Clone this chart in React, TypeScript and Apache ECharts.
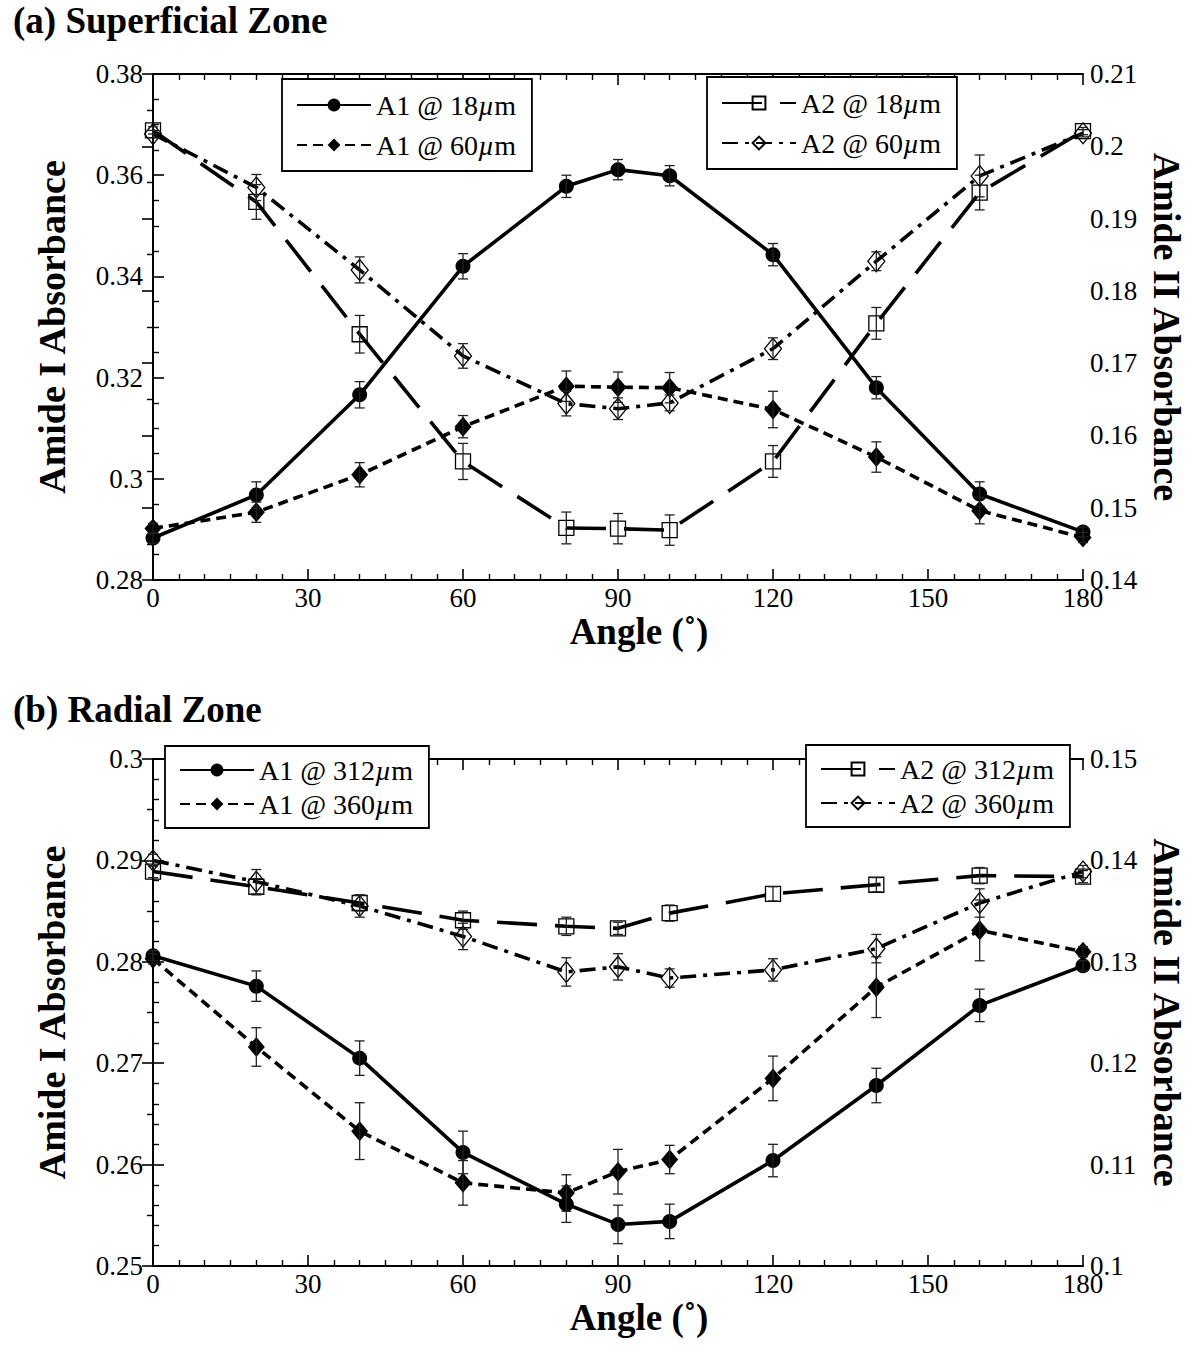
import React, { useEffect, useRef } from "react";
import * as echarts from "echarts";

const FONT = "'Liberation Serif', 'Times New Roman', serif";

const angles = [0, 20, 40, 60, 80, 90, 100, 120, 140, 160, 180];
const xTicks = [0, 30, 60, 90, 120, 150, 180];

// (a) Superficial zone
const a1_18 = [0.2883, 0.2968, 0.3166, 0.342, 0.3578, 0.3611, 0.3599, 0.3443, 0.318, 0.297, 0.2895];
const a1_18_err = [0.001, 0.0026, 0.0026, 0.0025, 0.0022, 0.002, 0.002, 0.0022, 0.0022, 0.0024, 0.001];
const a1_60 = [0.2902, 0.2934, 0.3008, 0.3103, 0.3183, 0.3181, 0.318, 0.3137, 0.3043, 0.2937, 0.2884];
const a1_60_err = [0.001, 0.002, 0.0024, 0.0022, 0.003, 0.003, 0.003, 0.0036, 0.003, 0.0026, 0.001];
const a2_18 = [0.2022, 0.1923, 0.174, 0.1564, 0.1472, 0.1471, 0.1469, 0.1564, 0.1755, 0.1936, 0.2021];
const a2_18_err = [0.0005, 0.0024, 0.0026, 0.0025, 0.0022, 0.0021, 0.0021, 0.0022, 0.0022, 0.0024, 0.0005];
const a2_60 = [0.2017, 0.1943, 0.1829, 0.171, 0.1644, 0.1637, 0.1645, 0.172, 0.1841, 0.1959, 0.2018];
const a2_60_err = [0.0005, 0.0018, 0.0018, 0.0017, 0.0017, 0.0015, 0.0011, 0.0015, 0.0013, 0.0029, 0.0005];

// (b) Radial zone
const b1_312 = [0.2806, 0.2776, 0.2705, 0.2612, 0.2561, 0.2541, 0.2544, 0.2604, 0.2678, 0.2757, 0.2796];
const b1_312_err = [0.0005, 0.0015, 0.0017, 0.0021, 0.0018, 0.0019, 0.0017, 0.0016, 0.0017, 0.0016, 0.0005];
const b1_360 = [0.2803, 0.2716, 0.2633, 0.2582, 0.2572, 0.2593, 0.2605, 0.2685, 0.2775, 0.2831, 0.281];
const b1_360_err = [0.0005, 0.0019, 0.0028, 0.0022, 0.0018, 0.0022, 0.0014, 0.0022, 0.003, 0.003, 0.0005];
const b2_312 = [0.1389, 0.1374, 0.1358, 0.1341, 0.1335, 0.1333, 0.1348, 0.1367, 0.1376, 0.1385, 0.1384];
const b2_312_err = [0.0006, 0.0008, 0.0008, 0.0009, 0.0009, 0.0006, 0.0008, 0.0007, 0.0007, 0.0008, 0.0006];
const b2_360 = [0.14, 0.1379, 0.1355, 0.1325, 0.129, 0.1295, 0.1284, 0.1292, 0.1313, 0.1358, 0.1389];
const b2_360_err = [0.0006, 0.0012, 0.0011, 0.0013, 0.0014, 0.0013, 0.0009, 0.0011, 0.0014, 0.0014, 0.0006];

const names = {
  a1_18: "A1 @ 18µm",
  a1_60: "A1 @ 60µm",
  a2_18: "A2 @ 18µm",
  a2_60: "A2 @ 60µm",
  b1_312: "A1 @ 312µm",
  b1_360: "A1 @ 360µm",
  b2_312: "A2 @ 312µm",
  b2_360: "A2 @ 360µm",
};

const fmt = (v: number) => String(Number(v.toFixed(3)));

type Style = "circle" | "fdiamond" | "square" | "odiamond";

function lineSeries(
  name: string,
  ys: number[],
  xAxisIndex: number,
  yAxisIndex: number,
  dash: any,
  mk: Style
) {
  let symbol = "circle";
  let symbolSize: any = 15;
  let itemStyle: any = { color: "#000" };
  if (mk === "fdiamond") {
    symbol = "diamond";
    symbolSize = [17, 20];
  } else if (mk === "square") {
    symbol = "rect";
    symbolSize = 15;
    itemStyle = { color: "rgba(255,255,255,0)", borderColor: "#000", borderWidth: 1.3 };
  } else if (mk === "odiamond") {
    symbol = "diamond";
    symbolSize = [17, 21];
    itemStyle = { color: "rgba(255,255,255,0)", borderColor: "#000", borderWidth: 1.3 };
  }
  return {
    type: "line",
    name,
    xAxisIndex,
    yAxisIndex,
    data: angles.map((a, i) => [a, ys[i]]),
    symbol,
    symbolSize,
    showAllSymbol: true,
    itemStyle,
    lineStyle: { color: "#000", width: 3.6, type: dash, cap: "butt" },
    clip: false,
    z: 3,
  };
}

function errSeries(ys: number[], errs: number[], xAxisIndex: number, yAxisIndex: number) {
  return {
    type: "custom",
    xAxisIndex,
    yAxisIndex,
    clip: false,
    z: 4,
    silent: true,
    data: angles.map((a, i) => [a, ys[i], errs[i]]),
    renderItem: (params: any, api: any) => {
      const x = api.value(0);
      const y = api.value(1);
      const e = api.value(2);
      const top = api.coord([x, y + e]);
      const bot = api.coord([x, y - e]);
      const hw = 5;
      const st = { stroke: "#222", lineWidth: 1.3 };
      return {
        type: "group",
        children: [
          { type: "line", shape: { x1: top[0], y1: top[1], x2: bot[0], y2: bot[1] }, style: st },
          { type: "line", shape: { x1: top[0] - hw, y1: top[1], x2: top[0] + hw, y2: top[1] }, style: st },
          { type: "line", shape: { x1: bot[0] - hw, y1: bot[1], x2: bot[0] + hw, y2: bot[1] }, style: st },
        ],
      };
    },
  };
}

const labelStyle = { fontFamily: FONT, fontSize: 27, color: "#000" };
const nameStyle = { fontFamily: FONT, fontSize: 38, fontWeight: "bold", color: "#000" };

function xAxes(gridIndex: number) {
  const common = {
    type: "value",
    gridIndex,
    min: 0,
    max: 180,
    interval: 30,
    splitLine: { show: false },
    axisLine: { lineStyle: { color: "#000", width: 2 } },
    axisTick: { inside: true, length: 11, lineStyle: { color: "#000", width: 1.6 } },
    minorTick: { show: true, splitNumber: 6, length: 6, lineStyle: { color: "#000", width: 1.4 } },
    minorSplitLine: { show: false },
  };
  return [
    {
      ...common,
      position: "bottom",
      axisLabel: { ...labelStyle, margin: 4, formatter: (v: number) => (xTicks.includes(v) ? String(v) : "") },
      name: "Angle (˚)",
      nameLocation: "middle",
      nameGap: 33,
      nameTextStyle: { ...nameStyle, fontSize: 37, padding: [0, 0, 0, 42] },
    },
    { ...common, position: "top", axisLabel: { show: false } },
  ];
}

function yAxis(gridIndex: number, position: string, min: number, max: number, interval: number, minorSplit: number, name: string) {
  const left = position === "left";
  return {
    type: "value",
    gridIndex,
    position,
    min,
    max,
    interval,
    splitLine: { show: false },
    axisLine: { show: true, lineStyle: { color: "#000", width: 2 } },
    axisTick: { show: true, inside: true, length: 11, lineStyle: { color: "#000", width: 1.6 } },
    minorTick: { show: true, splitNumber: minorSplit, length: 6, lineStyle: { color: "#000", width: 1.4 } },
    axisLabel: { ...labelStyle, margin: left ? 10 : 7, formatter: (v: number) => fmt(v) },
    name,
    nameLocation: "middle",
    nameRotate: left ? 90 : -90,
    nameGap: left ? 82 : 61,
    nameTextStyle: nameStyle,
  };
}

function legend(data: string[], left: number, top: number, itemGap: number, padV: number) {
  return {
    data,
    left,
    top,
    orient: "vertical",
    itemWidth: 74,
    itemHeight: 16,
    itemGap,
    padding: [padV, 16, padV, 14],
    borderColor: "#000",
    borderWidth: 1.8,
    backgroundColor: "#fff",
    selectedMode: false,
    z: 10,
    formatter: (n: string) => n.replace("µ", "{i|µ}"),
    textStyle: {
      fontFamily: FONT,
      fontSize: 28,
      color: "#000",
      rich: { i: { fontFamily: FONT, fontSize: 28, fontStyle: "italic", color: "#000" } },
    },
  };
}

const DASH = [10, 6];
const LONG = [40, 18];
const DASHDOT = [16, 7, 4, 7];

export default function App() {
  const ref = useRef<HTMLDivElement>(null);
  useEffect(() => {
    if (!ref.current) return;
    const chart = echarts.init(ref.current, null, { renderer: "svg" });
    const option: any = {
      animation: false,
      backgroundColor: "#fff",
      grid: [
        { left: 153, top: 74, width: 930, height: 506 },
        { left: 153, top: 759, width: 930, height: 507 },
      ],
      xAxis: [...xAxes(0), ...xAxes(1)],
      yAxis: [
        yAxis(0, "left", 0.28, 0.38, 0.02, 4, "Amide I Absorbance"),
        yAxis(0, "right", 0.14, 0.21, 0.01, 2, "Amide II Absorbance"),
        yAxis(1, "left", 0.25, 0.3, 0.01, 5, "Amide I Absorbance"),
        yAxis(1, "right", 0.1, 0.15, 0.01, 2, "Amide II Absorbance"),
      ],
      legend: [
        legend([names.a1_18, names.a1_60], 282, 79, 12, 12),
        legend([names.a2_18, names.a2_60], 707, 77, 12, 12),
        legend([names.b1_312, names.b1_360], 165, 746, 6, 10),
        legend([names.b2_312, names.b2_360], 806, 745, 6, 10),
      ],
      graphic: [
        { type: "text", left: 13, top: 2, style: { text: "(a) Superficial Zone", font: `bold 37px ${FONT}`, fill: "#000" } },
        { type: "text", left: 13, top: 691, style: { text: "(b) Radial Zone", font: `bold 37px ${FONT}`, fill: "#000" } },
      ],
      series: [
        lineSeries(names.a1_18, a1_18, 0, 0, "solid", "circle"),
        lineSeries(names.a1_60, a1_60, 0, 0, DASH, "fdiamond"),
        lineSeries(names.a2_18, a2_18, 0, 1, LONG, "square"),
        lineSeries(names.a2_60, a2_60, 0, 1, DASHDOT, "odiamond"),
        errSeries(a1_18, a1_18_err, 0, 0),
        errSeries(a1_60, a1_60_err, 0, 0),
        errSeries(a2_18, a2_18_err, 0, 1),
        errSeries(a2_60, a2_60_err, 0, 1),
        lineSeries(names.b1_312, b1_312, 2, 2, "solid", "circle"),
        lineSeries(names.b1_360, b1_360, 2, 2, DASH, "fdiamond"),
        lineSeries(names.b2_312, b2_312, 2, 3, LONG, "square"),
        lineSeries(names.b2_360, b2_360, 2, 3, DASHDOT, "odiamond"),
        errSeries(b1_312, b1_312_err, 2, 2),
        errSeries(b1_360, b1_360_err, 2, 2),
        errSeries(b2_312, b2_312_err, 2, 3),
        errSeries(b2_360, b2_360_err, 2, 3),
      ],
    };
    chart.setOption(option);
    return () => chart.dispose();
  }, []);
  return (
    <div
      ref={ref}
      style={{ position: "absolute", left: 0, top: 0, width: 1200, height: 1359, background: "#fff" }}
    />
  );
}
